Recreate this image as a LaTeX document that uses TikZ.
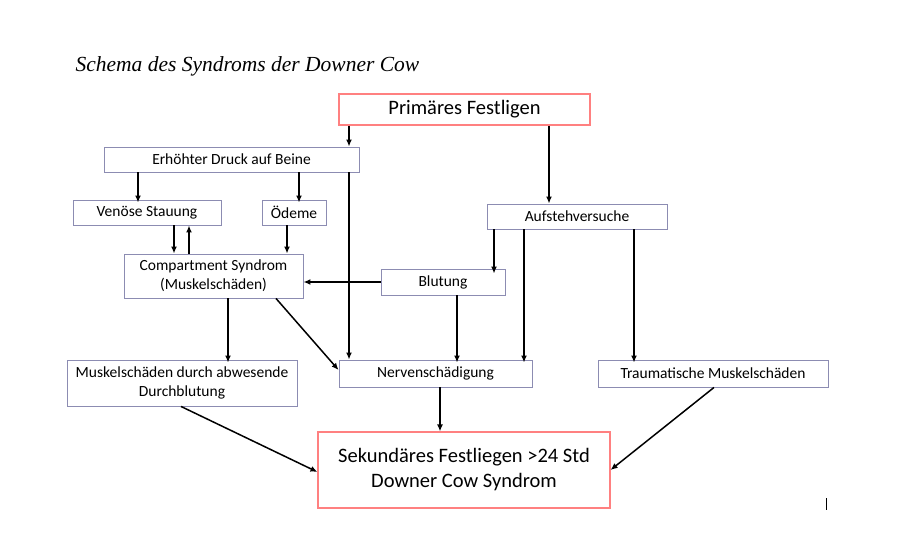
\documentclass[tikz,border=0pt]{standalone}
\usepackage{fontspec}
\setmainfont{Carlito}
\newfontfamily\titlefont{Liberation Serif}
\usetikzlibrary{arrows.meta}
\begin{document}
\begin{tikzpicture}[x=1pt,y=-1pt,
  box/.style={draw=blue!20!gray!75, line width=0.9pt, inner sep=0pt, align=center, font=\fontsize{15.5}{19}\selectfont},
  big/.style={draw=red!50!white, line width=1.1pt, inner sep=0pt, align=center, font=\fontsize{20.5}{25}\selectfont},
  arr/.style={line width=1.5pt, -{Latex[length=7pt,width=6pt]}}]
\useasboundingbox (0,0) rectangle (906,559);
\node[anchor=west, font=\titlefont\itshape\fontsize{21.5}{24}\selectfont] (t) at (72,66) {Schema des Syndroms der Downer Cow};
\node[big, minimum width=251, minimum height=31] (p) at (464.5,109.5) {Primäres Festligen};
\node[box, minimum width=255, minimum height=25] (e) at (231.5,159.5) {Erhöhter Druck auf Beine};
\node[box, minimum width=148, minimum height=25] (v) at (147,212.5) {Venöse Stauung};
\node[box, minimum width=64, minimum height=25] (o) at (294,212.5) {Ödeme};
\node[box, minimum width=180, minimum height=25] (a) at (577,216.5) {Aufstehversuche};
\node[box, minimum width=179, minimum height=44] (c) at (213.5,276) {Compartment Syndrom\\(Muskelschäden)};
\node[box, minimum width=124, minimum height=26] (b) at (443,282) {Blutung};
\node[box, minimum width=230, minimum height=46] (m) at (182,383) {Muskelschäden durch abwesende\\Durchblutung};
\node[box, minimum width=193, minimum height=27] (n) at (435.5,373.5) {Nervenschädigung};
\node[box, minimum width=230, minimum height=27] (tr) at (713,373.5) {Traumatische Muskelschäden};
\node[big, minimum width=292, minimum height=76] (s) at (464,470) {Sekundäres Festliegen >24 Std\\Downer Cow Syndrom};
\draw[line width=0.8pt] (826,498) -- (826,510);
\draw[arr] (p.south -| 349,0) -- (e.north -| 349,0);
\draw[arr] (p.south -| 549,0) -- (a.north -| 549,0);
\draw[arr] (e.south -| 349,0) -- (n.north -| 349,0);
\draw[arr] (e.south -| 138,0) -- ([yshift=-3]v.north -| 138,0);
\draw[arr] (e.south -| 299,0) -- ([yshift=-3]o.north -| 299,0);
\draw[arr] (v.south -| 174,0) -- (c.north -| 174,0);
\draw[arr] (c.north -| 189,0) -- (v.south -| 189,0);
\draw[arr] (o.south -| 287,0) -- (c.north -| 287,0);
\draw[arr] (b.west |- 0,282) -- (c.east |- 0,282);
\draw[arr] (a.south -| 494,0) -- ([yshift=-5]b.north -| 494,0);
\draw[arr] (a.south -| 524,0) -- ([yshift=-3]n.north -| 524,0);
\draw[arr] (a.south -| 634,0) -- ([yshift=-3]tr.north -| 634,0);
\draw[arr] (b.south -| 457,0) -- ([yshift=-3]n.north -| 457,0);
\draw[arr] (c.south -| 228,0) -- ([yshift=-3]m.north -| 228,0);
\draw[arr] (c.south -| 276,0) -- (n.west |- 0,370);
\draw[arr] (m.south -| 181,0) -- (s.west |- 0,472);
\draw[arr] (n.south -| 440,0) -- (s.north -| 440,0);
\draw[arr] (tr.south -| 714,0) -- (s.east |- 0,470);
\end{tikzpicture}
\end{document}
